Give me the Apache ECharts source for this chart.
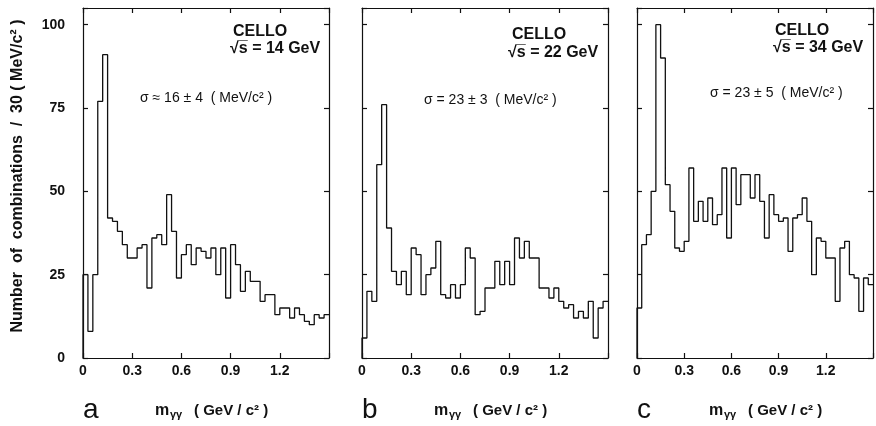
<!DOCTYPE html>
<html>
<head>
<meta charset="utf-8">
<script src="https://cdn.jsdelivr.net/npm/echarts@6/dist/echarts.min.js"></script>
<style>
  html, body { margin: 0; padding: 0; background: #fff; }
  #chart { width: 876px; height: 426px; }
</style>
</head>
<body>
<div id="chart"></div>
<script>
// entries per 30 MeV/c^2 bin, first bin starts at m = 0
const binWidth = 0.03
const counts14 = [25, 8, 25, 77, 91, 42, 41, 38, 34, 30, 30, 33, 34, 21, 36, 37, 34, 49, 38, 24,
  31, 34, 28, 33, 32, 30, 33, 25, 33, 18, 34, 28, 20, 26, 23, 23, 17, 19, 19, 13,
  15, 15, 12, 15, 13, 11, 10, 13, 12, 13]
const counts22 = [6, 20, 17, 58, 76, 39, 26, 22, 26, 19, 33, 31, 19, 25, 27, 35, 19, 18, 22, 18,
  22, 33, 30, 13, 14, 21, 21, 29, 22, 29, 22, 36, 30, 35, 30, 30, 21, 21, 18, 21,
  17, 15, 16, 12, 14, 12, 17, 6, 15, 17]
const counts34 = [15, 34, 37, 50, 100, 90, 52, 44, 33, 32, 35, 57, 41, 47, 41, 48, 40, 43, 57, 36,
  57, 46, 55, 55, 48, 55, 47, 36, 49, 43, 41, 42, 32, 42, 43, 48, 41, 25, 36, 35,
  30, 30, 17, 33, 35, 25, 24, 14, 24, 22]
const xTicks = ['0', '0.3', '0.6', '0.9', '1.2']
const yTicks = ['0', '25', '50', '75', '100']

const panels = [
  { letter: 'a', energy: '14', sigma: 'σ ≈ 16 ± 4  ( MeV/c² )', counts: counts14 },
  { letter: 'b', energy: '22', sigma: 'σ = 23 ± 3  ( MeV/c² )', counts: counts22 },
  { letter: 'c', energy: '34', sigma: 'σ = 23 ± 5  ( MeV/c² )', counts: counts34 },
]

// layout of the three frames (pixels)
const boxes = [
  { left: 83, cello: [233, 32], roots: [230, 49], sigma: [140, 98] },
  { left: 362, cello: [512, 35], roots: [508, 53], sigma: [424, 100] },
  { left: 637, cello: [775, 31], roots: [773, 48], sigma: [710, 93] },
]
const frameTop = 8, frameHeight = 350, frameWidth = 246

const ink = '#111'
const font = 'Liberation Sans, Arial, sans-serif'

function stepData(counts) {
  const pts = [[0, 0]]
  counts.forEach((c, i) => pts.push([i * binWidth, c]))
  pts.push([counts.length * binWidth, counts[counts.length - 1]])
  return pts
}

const xLabel = (v) => {
  const s = String(Math.round(v * 10) / 10)
  return xTicks.includes(s) ? s : ''
}
const yLabel = (v) => (yTicks.includes(String(v)) ? String(v) : '')

const grid = [], xAxis = [], yAxis = [], series = [], graphic = []

panels.forEach((p, i) => {
  const b = boxes[i]
  grid.push({ left: b.left, top: frameTop, width: frameWidth, height: frameHeight })
  const axisCommon = {
    gridIndex: i,
    type: 'value',
    axisLine: { show: true, onZero: false, lineStyle: { color: ink, width: 1.2 } },
    axisTick: { show: true, inside: true, length: 5, lineStyle: { color: ink, width: 1.2 } },
    splitLine: { show: false },
  }
  xAxis.push({
    ...axisCommon, position: 'bottom', min: 0, max: 1.5, interval: 0.3,
    axisLabel: { formatter: xLabel, margin: 6, color: ink, fontSize: 14, fontFamily: font, fontWeight: 'bold' },
  })
  xAxis.push({
    ...axisCommon, position: 'top', min: 0, max: 1.5, interval: 0.3,
    axisLabel: { show: false },
  })
  yAxis.push({
    ...axisCommon, position: 'left', min: 0, max: 105, interval: 25,
    axisLabel: { show: i === 0, formatter: yLabel, margin: 18, color: ink, fontSize: 14, fontFamily: font, fontWeight: 'bold' },
  })
  yAxis.push({
    ...axisCommon, position: 'right', min: 0, max: 105, interval: 25,
    axisLabel: { show: false },
  })
  series.push({
    type: 'line',
    xAxisIndex: i * 2,
    yAxisIndex: i * 2,
    step: 'end',
    symbol: 'none',
    data: stepData(p.counts),
    lineStyle: { color: ink, width: 1.3 },
    animation: false,
  })

  graphic.push(
    { type: 'text', x: b.cello[0], y: b.cello[1], style: { text: 'CELLO', font: 'bold 16px ' + font, fill: ink, textVerticalAlign: 'middle' } },
    { type: 'text', x: b.roots[0], y: b.roots[1], style: { text: '√s̅ = ' + p.energy + ' GeV', font: 'bold 16px ' + font, fill: ink, textVerticalAlign: 'middle' } },
    { type: 'text', x: b.sigma[0], y: b.sigma[1], style: { text: p.sigma, font: '14px ' + font, fill: ink, textVerticalAlign: 'middle' } },
    { type: 'text', x: b.left, y: 410, style: { text: p.letter, font: '28px ' + font, fill: ink, textVerticalAlign: 'middle' } },
    { type: 'text', x: b.left + 72, y: 411, style: { text: 'm', font: 'bold 16px ' + font, fill: ink, textVerticalAlign: 'middle' } },
    { type: 'text', x: b.left + 87, y: 415, style: { text: 'γγ', font: 'bold 11px ' + font, fill: ink, textVerticalAlign: 'middle' } },
    { type: 'text', x: b.left + 111, y: 411, style: { text: '( GeV / c² )', font: 'bold 15px ' + font, fill: ink, textVerticalAlign: 'middle' } }
  )
})

graphic.push({
  type: 'text', x: 18, y: 176, rotation: Math.PI / 2,
  style: { text: 'Number  of  combinations  /  30 ( MeV/c² )', font: 'bold 16px ' + font, fill: ink, textAlign: 'center', textVerticalAlign: 'middle' },
})

const chart = echarts.init(document.getElementById('chart'))
chart.setOption({
  backgroundColor: '#fff',
  animation: false,
  grid, xAxis, yAxis, series, graphic,
})
</script>
</body>
</html>
